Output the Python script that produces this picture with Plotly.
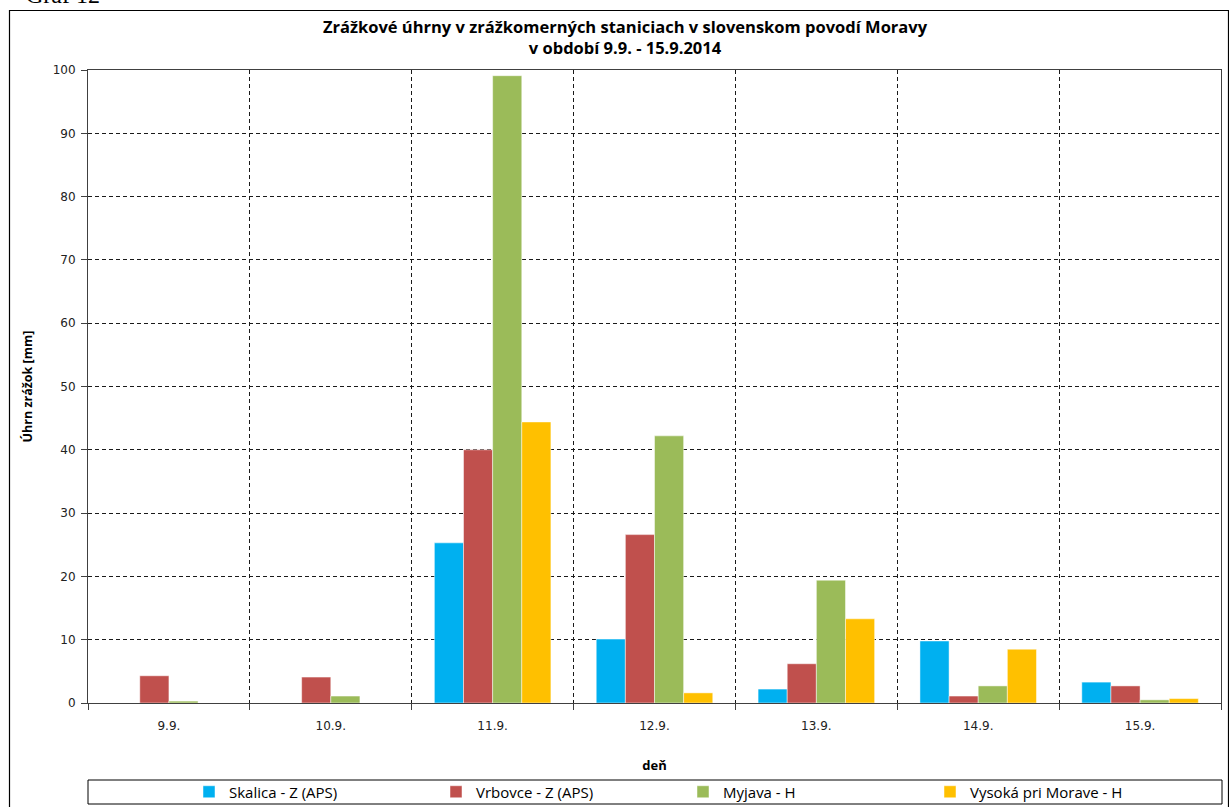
import plotly.graph_objects as go

days = ["9.9.", "10.9.", "11.9.", "12.9.", "13.9.", "14.9.", "15.9."]
skalica = [0, 0, 25.3, 10.1, 2.2, 9.8, 3.3]
vrbovce = [4.3, 4.1, 40.0, 26.6, 6.2, 1.1, 2.7]
myjava = [0.3, 1.1, 99.1, 42.2, 19.4, 2.7, 0.5]
vysoka = [0, 0, 44.4, 1.6, 13.3, 8.5, 0.7]

series_names = ["Skalica - Z (APS)", "Vrbovce - Z (APS)", "Myjava - H", "Vysoká pri Morave - H"]
series_values = [skalica, vrbovce, myjava, vysoka]
colors = ["#00B0F0", "#C0504D", "#9BBB59", "#FFC000"]

W, H = 1229, 807
L, R, T, B = 88, 8, 70, 104
pw = W - L - R
ph = H - T - B


def px_x(x):
    return (x - L) / pw


def px_y(y):
    return (H - B - y) / ph


fig = go.Figure()
for name, vals, col in zip(series_names, series_values, colors):
    fig.add_trace(go.Bar(
        x=days, y=vals, name=name,
        marker=dict(color=col, line=dict(color="rgba(255,255,255,0.6)", width=0.8)),
    ))

grid = dict(showgrid=True, gridcolor="#1a1a1a", gridwidth=1, griddash="4px,3px")

fig.update_layout(
    width=W, height=H,
    margin=dict(l=L, r=R, t=T, b=B, autoexpand=False),
    paper_bgcolor="white", plot_bgcolor="white",
    barmode="group", bargap=0.28, bargroupgap=0,
    showlegend=True,
    legend=dict(
        orientation="h", x=px_x(189), xanchor="left", y=px_y(792), yanchor="middle",
        entrywidth=202, entrywidthmode="pixels", itemwidth=30,
        font=dict(family="Open Sans", size=15, color="#000000"),
        bgcolor="rgba(0,0,0,0)", traceorder="normal",
    ),
    title=dict(
        text="<b>Zrážkové úhrny v zrážkomerných staniciach v slovenskom povodí Moravy<br>v období 9.9. - 15.9.2014</b>",
        x=625 / W, xanchor="center", xref="container",
        y=1 - 33 / H, yanchor="middle", yref="container",
        font=dict(family="Open Sans", size=16.5, color="#000000"),
    ),
    xaxis=dict(
        type="category", tickson="boundaries", ticks="outside", ticklen=6, tickcolor="#404040",
        showline=True, linecolor="#404040", linewidth=1, mirror=True,
        ticklabelstandoff=12,
        tickfont=dict(family="DejaVu Sans", size=12, color="#222222"),
        title=dict(text="<b>deň</b>", font=dict(family="Open Sans", size=13, color="#000000"), standoff=28),
        **grid,
    ),
    yaxis=dict(
        range=[0, 100], dtick=10, ticks="outside", ticklen=6, tickcolor="#404040",
        showline=True, linecolor="#404040", linewidth=1, mirror=True,
        ticklabelstandoff=3,
        tickfont=dict(family="DejaVu Sans", size=12, color="#222222"),
        title=dict(text="<b>Úhrn zrážok [mm]</b>", font=dict(family="Open Sans", size=12.5, color="#000000"), standoff=17),
        zeroline=False,
        **grid,
    ),
    shapes=[
        dict(type="rect", xref="paper", yref="paper",
             x0=px_x(9.5), x1=px_x(1228.5), y0=px_y(812), y1=px_y(10.5),
             line=dict(color="#000000", width=1.2), fillcolor="rgba(0,0,0,0)", layer="below"),
        dict(type="rect", xref="paper", yref="paper",
             x0=px_x(88), x1=px_x(1222), y0=px_y(804), y1=px_y(780),
             line=dict(color="#000000", width=1), fillcolor="rgba(0,0,0,0)", layer="below"),
    ],
    annotations=[
        dict(text="Graf 12", xref="paper", yref="paper", x=px_x(24), y=px_y(9.5),
             xanchor="left", yanchor="bottom", showarrow=False,
             font=dict(family="Liberation Serif", size=24, color="#000000")),
    ],
)

fig.write_html("out.html")
